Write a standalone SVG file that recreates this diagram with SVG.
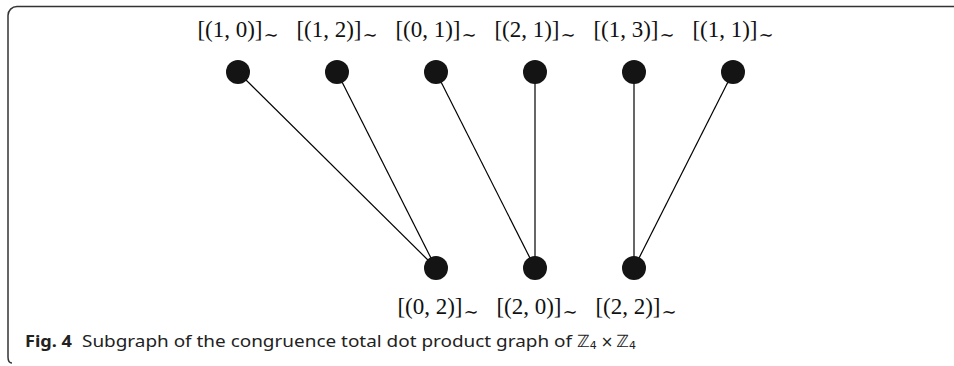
<svg xmlns="http://www.w3.org/2000/svg" width="954" height="366" viewBox="0 0 954 366">
<style>
.frame{fill:none;stroke:#333;stroke-width:1.5}
.edge{stroke:#000;stroke-width:1.2;fill:none}
.node circle{fill:#141414}
.lbl{font-family:"Liberation Serif","DejaVu Serif",serif;font-size:23px;fill:#111;text-anchor:middle}
.sub{font-family:"DejaVu Serif",serif;font-size:18px}
.cap{font-family:"Noto Sans","Open Sans",sans-serif;font-size:15.5px;fill:#222}
.zz{font-family:"DejaVu Sans",sans-serif;font-size:17px;fill:#222}
</style>
<rect width="954" height="366" fill="#fff"/>
<path class="frame" d="M954 6.5H17A9 9 0 0 0 8 15.5V357Q8 363 12 363"/>
<g id="connectors">
<line class="edge" x1="238" y1="72" x2="436" y2="268"/>
<line class="edge" x1="337" y1="72" x2="436" y2="268"/>
<line class="edge" x1="436" y1="72" x2="535" y2="268"/>
<line class="edge" x1="535" y1="72" x2="535" y2="268"/>
<line class="edge" x1="634" y1="72" x2="634" y2="268"/>
<line class="edge" x1="733" y1="72" x2="634" y2="268"/>
</g>
<g id="n10" class="node"><circle cx="238" cy="72" r="12"/><text class="lbl" x="238" y="37">[(1, 0)]<tspan class="sub" dx="1" dy="4">∼</tspan></text></g>
<g id="n12" class="node"><circle cx="337" cy="72" r="12"/><text class="lbl" x="337" y="37">[(1, 2)]<tspan class="sub" dx="1" dy="4">∼</tspan></text></g>
<g id="n01" class="node"><circle cx="436" cy="72" r="12"/><text class="lbl" x="436" y="37">[(0, 1)]<tspan class="sub" dx="1" dy="4">∼</tspan></text></g>
<g id="n21" class="node"><circle cx="535" cy="72" r="12"/><text class="lbl" x="535" y="37">[(2, 1)]<tspan class="sub" dx="1" dy="4">∼</tspan></text></g>
<g id="n13" class="node"><circle cx="634" cy="72" r="12"/><text class="lbl" x="634" y="37">[(1, 3)]<tspan class="sub" dx="1" dy="4">∼</tspan></text></g>
<g id="n11" class="node"><circle cx="733" cy="72" r="12"/><text class="lbl" x="733" y="37">[(1, 1)]<tspan class="sub" dx="1" dy="4">∼</tspan></text></g>
<g id="n02" class="node"><circle cx="436" cy="268" r="12"/><text class="lbl" x="438" y="314">[(0, 2)]<tspan class="sub" dx="1" dy="4">∼</tspan></text></g>
<g id="n20" class="node"><circle cx="535" cy="268" r="12"/><text class="lbl" x="537" y="314">[(2, 0)]<tspan class="sub" dx="1" dy="4">∼</tspan></text></g>
<g id="n22" class="node"><circle cx="634" cy="268" r="12"/><text class="lbl" x="636" y="314">[(2, 2)]<tspan class="sub" dx="1" dy="4">∼</tspan></text></g>
<g id="caption">
<text class="cap" x="25" y="347" font-weight="bold" textLength="47" lengthAdjust="spacingAndGlyphs">Fig. 4</text>
<text class="cap" x="82" y="347" textLength="490" lengthAdjust="spacingAndGlyphs">Subgraph of the congruence total dot product graph of</text>
<text class="zz" x="577" y="347">ℤ<tspan style="font-size:11px" dy="2">4</tspan><tspan style="font-size:15px" dy="-2" dx="4">×</tspan><tspan dx="3">ℤ</tspan><tspan style="font-size:11px" dy="2">4</tspan></text>
</g>
</svg>
